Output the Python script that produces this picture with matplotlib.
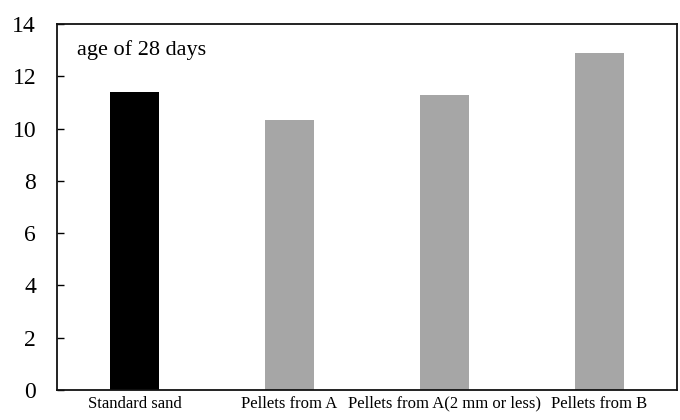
import matplotlib.pyplot as plt

plt.rcParams['font.family'] = ['Liberation Serif', 'DejaVu Serif']

categories = ['Standard sand', 'Pellets from A', 'Pellets from A(2 mm or less)', 'Pellets from B']
strength = [11.4, 10.33, 11.27, 12.89]
bar_colors = ['#000000', '#a6a6a6', '#a6a6a6', '#a6a6a6']
y_ticks = [0, 2, 4, 6, 8, 10, 12, 14]

fig = plt.figure(figsize=(6.8, 4.2), dpi=100)
ax = fig.add_axes([57 / 680, 1 - 390 / 420, 620 / 680, 366 / 420])

x = range(len(categories))
ax.bar(x, strength, width=0.31, color=bar_colors, zorder=2)

ax.set_xlim(-0.5, len(categories) - 0.5)
ax.set_ylim(0, 14)
ax.set_yticks(y_ticks)
ax.set_xticks(list(x))
ax.set_xticklabels(categories, fontsize=12)
ax.tick_params(axis='x', length=0, pad=4)
ax.tick_params(axis='y', direction='in', length=5, width=1, labelsize=17, pad=15)

for side in ax.spines.values():
    side.set_linewidth(1.3)
    side.set_color('#111111')

ax.text(0.032, 0.929, 'age of 28 days', transform=ax.transAxes, fontsize=16,
        va='center', ha='left')

fig.savefig('out.png', dpi=100)
